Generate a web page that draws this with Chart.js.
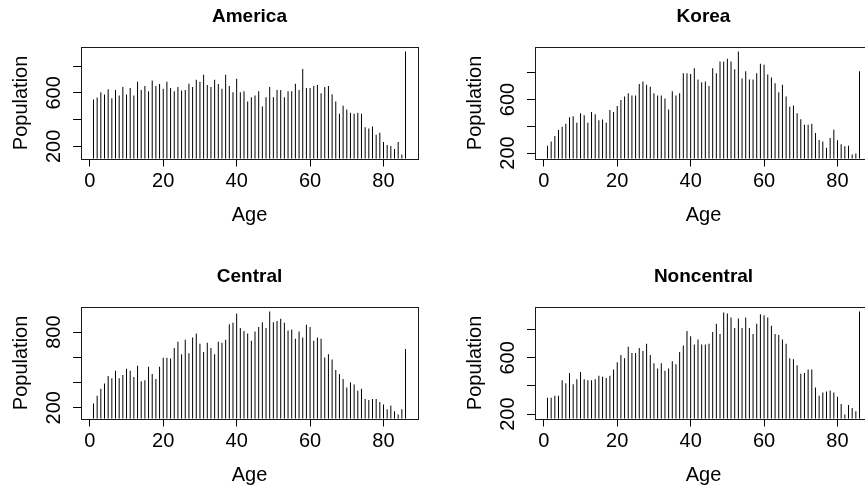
<!DOCTYPE html>
<html><head><meta charset="utf-8">
<script src="https://cdn.jsdelivr.net/npm/chart.js@4"></script>
<style>
html,body{margin:0;padding:0;background:#fff;overflow:hidden;width:865px;height:490px;position:relative;}
.panel{position:absolute;width:454px;height:260px;}
.panel canvas{display:block;}
</style></head><body>
<div class="panel" style="left:0;top:0"><canvas id="c0" width="454" height="260"></canvas></div>
<div class="panel" style="left:454px;top:0"><canvas id="c1" width="454" height="260"></canvas></div>
<div class="panel" style="left:0;top:260px"><canvas id="c2" width="454" height="260"></canvas></div>
<div class="panel" style="left:454px;top:260px"><canvas id="c3" width="454" height="260"></canvas></div>
<script>
// ---- data ----
const ages = [1,2,3,4,5,6,7,8,9,10,11,12,13,14,15,16,17,18,19,20,
  21,22,23,24,25,26,27,28,29,30,31,32,33,34,35,36,37,38,39,40,
  41,42,43,44,45,46,47,48,49,50,51,52,53,54,55,56,57,58,59,60,
  61,62,63,64,65,66,67,68,69,70,71,72,73,74,75,76,77,78,79,80,
  81,82,83,84,85,86];
const america = [550,565,605,587,627,560,622,580,644,587,
  637,580,684,622,652,612,692,652,667,630,
  684,637,612,644,617,622,669,644,699,684,
  736,659,644,699,667,630,736,652,605,706,
  605,612,535,567,580,612,498,567,644,567,
  622,622,567,612,612,669,622,779,637,637,
  652,659,597,644,652,590,535,443,503,476,
  451,443,451,443,342,334,349,287,302,232,
  210,202,180,232,140,910];
const korea = [255,287,327,372,397,420,467,475,427,497,
  482,427,507,490,445,450,427,522,507,552,
  597,622,647,630,630,717,735,710,695,647,
  630,630,607,525,662,630,647,797,797,792,
  835,750,730,735,702,835,797,885,885,905,
  885,827,960,757,812,750,750,797,867,860,
  787,765,722,655,710,622,547,555,497,452,
  412,412,420,350,297,287,240,312,375,295,
  265,250,255,190,197,812];
const central = [234,295,351,393,451,433,493,433,459,509,
  493,443,533,409,417,525,467,427,525,596,
  596,591,673,723,625,739,633,758,789,707,
  641,715,673,625,723,715,739,863,874,948,
  832,808,789,731,805,840,879,832,964,879,
  887,906,874,813,821,747,805,758,858,840,
  731,758,747,599,625,583,499,467,427,361,
  401,385,335,351,269,261,269,269,245,226,
  187,218,171,147,187,665];
const noncentral = [316,316,330,330,441,420,493,413,448,500,
  448,441,441,448,472,465,457,472,517,568,
  620,597,679,635,635,670,649,701,620,561,
  524,561,509,524,576,554,642,687,791,753,
  694,731,694,694,701,783,842,769,923,916,
  887,812,880,812,887,812,769,842,909,902,
  887,828,769,762,731,701,597,590,547,486,
  493,517,517,389,330,354,361,368,354,323,
  271,198,264,243,221,930];
const panelTitles = ['America','Korea','Central','Noncentral'];
const xTicks = [0,20,40,60,80];
const yTicks = [200,400,600,800];
const yLabelsAmerica = [200,600];
const yLabelsKorea = [200,600];
const yLabelsCentral = [200,800];
const yLabelsNoncentral = [200,600];
const xTitle = 'Age';
const yTitle = 'Population';

// ---- drawing ----
Chart.defaults.font.family = "'Liberation Sans', Arial, sans-serif";
Chart.defaults.color = '#000';

const boxPlugin = {
  id: 'rbox',
  afterDraw(chart) {
    const {ctx, chartArea: a} = chart;
    ctx.save();
    ctx.strokeStyle = '#1a1a1a';
    ctx.lineWidth = 1;
    const l = Math.round(a.left) + 0.5, t = Math.round(a.top) + 0.5;
    const r = Math.round(a.right) + 0.5, b = Math.round(a.bottom) + 0.5;
    ctx.strokeRect(l, t, r - l, b - t);
    ctx.restore();
  }
};

function rRange(arr) {
  const lo = Math.min(...arr), hi = Math.max(...arr);
  const pad = 0.04 * (hi - lo);
  return [lo - pad, hi + pad];
}

function makePanel(id, title, values, labelled) {
  const [xmin, xmax] = rRange(ages);
  const [ymin, ymax] = rRange(values);
  new Chart(document.getElementById(id), {
    type: 'bar',
    data: {
      datasets: [{
        data: ages.map((a, i) => ({x: a, y: values[i]})),
        backgroundColor: '#000',
        borderWidth: 0,
        barThickness: 1,
        inflateAmount: 0
      }]
    },
    options: {
      responsive: false,
      animation: false,
      events: [],
      layout: {padding: {left: 0, top: 0, right: 36, bottom: 0}},
      plugins: {
        legend: {display: false},
        tooltip: {enabled: false},
        title: {
          display: true, text: title, fullSize: false, color: '#000',
          font: {size: 19, weight: 'bold'},
          padding: {top: 5, bottom: 19.5}
        }
      },
      scales: {
        x: {
          type: 'linear', min: xmin, max: xmax, offset: false,
          afterBuildTicks: s => { s.ticks = xTicks.map(v => ({value: v})); },
          afterFit: s => { s.height = 101.5; },
          grid: {drawOnChartArea: false, drawTicks: true, tickLength: 8, color: '#000', lineWidth: 1, offset: false},
          border: {display: false},
          ticks: {color: '#000', font: {size: 20}, padding: 3, autoSkip: false, maxRotation: 0, minRotation: 0},
          title: {display: true, text: xTitle, color: '#000', font: {size: 20}, padding: {top: 0, bottom: 33}}
        },
        y: {
          min: ymin, max: ymax,
          afterBuildTicks: s => { s.ticks = yTicks.map(v => ({value: v})); },
          afterFit: s => { s.width = 81; },
          grid: {drawOnChartArea: false, drawTicks: true, tickLength: 8, color: '#000', lineWidth: 1},
          border: {display: false},
          ticks: {
            color: '#000', font: {size: 20}, padding: 2, autoSkip: false,
            minRotation: 90, maxRotation: 90, crossAlign: 'center',
            callback: v => labelled.includes(v) ? String(v) : ''
          },
          title: {display: true, text: yTitle, color: '#000', font: {size: 20}, padding: {top: 9, bottom: 0}}
        }
      }
    },
    plugins: [boxPlugin]
  });
}

makePanel('c0', panelTitles[0], america, yLabelsAmerica);
makePanel('c1', panelTitles[1], korea, yLabelsKorea);
makePanel('c2', panelTitles[2], central, yLabelsCentral);
makePanel('c3', panelTitles[3], noncentral, yLabelsNoncentral);
</script>
</body></html>
